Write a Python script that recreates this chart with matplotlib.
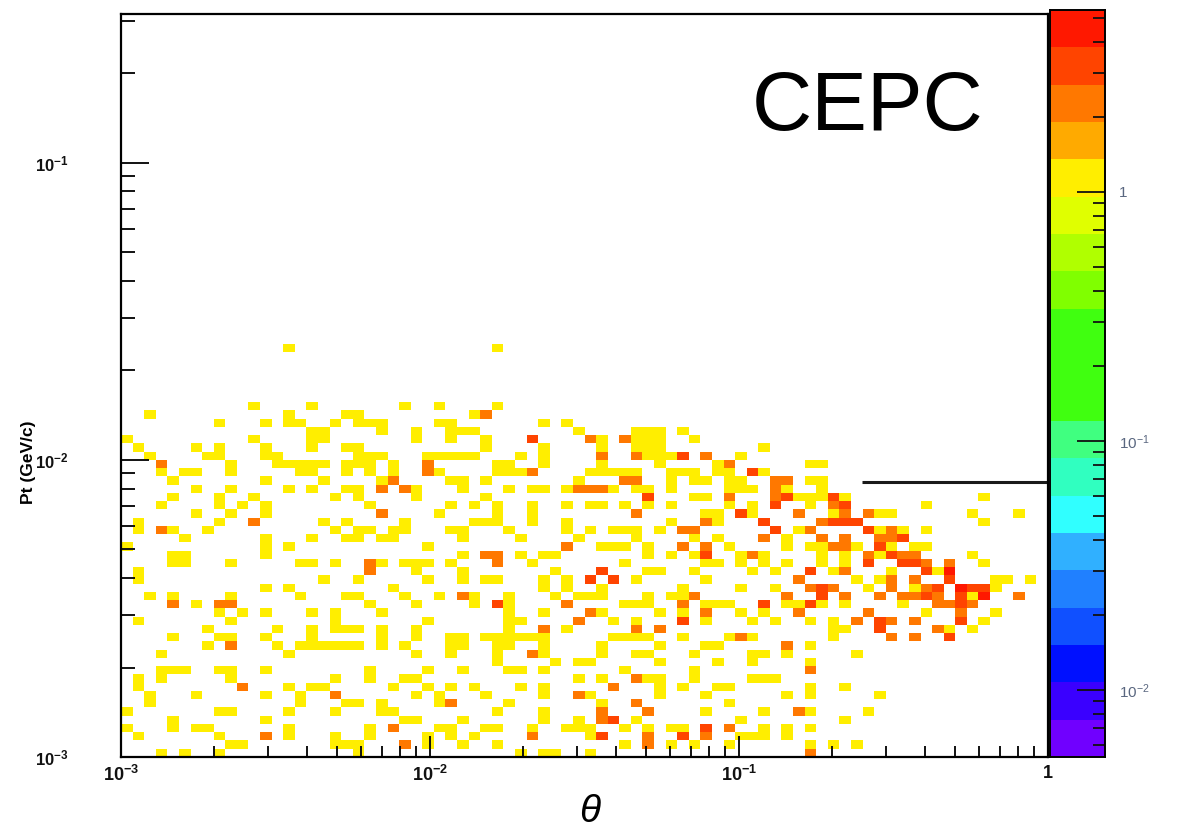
import numpy as np
import matplotlib
matplotlib.use("Agg")
import matplotlib.pyplot as plt
from matplotlib.colors import ListedColormap
from matplotlib.ticker import LogLocator, FixedLocator, FixedFormatter, NullFormatter

plt.rcParams['font.family'] = ['Liberation Sans', 'DejaVu Sans']
plt.rcParams['mathtext.fontset'] = 'custom'
plt.rcParams['mathtext.rm'] = 'Liberation Sans'
plt.rcParams['mathtext.it'] = 'Liberation Sans:italic'
plt.rcParams['mathtext.bf'] = 'Liberation Sans:bold'

# histogram binning (log theta, log Pt)
N_THETA = 80
N_PT = 90
THETA_RANGE = (-3.0, 0.0)
PT_RANGE = (-3.0, -0.5)

# cell contents, top row (Pt bin 50) to bottom row (bin 0)
# '.' empty, digits = bin content
HIST_ROWS = [
    ".......... .......... .......... .......... .......... .......... .......... ..........",  # 50
    ".......... ....1..... .......... ..1....... .......... .......... .......... ..........",  # 49
    ".......... .......... .......... .......... .......... .......... .......... ..........",  # 48
    ".......... .......... .......... .......... .......... .......... .......... ..........",  # 47
    ".......... .......... .......... .......... .......... .......... .......... ..........",  # 46
    ".......... .......... .......... .......... .......... .......... .......... ..........",  # 45
    ".......... .......... .......... .......... .......... .......... .......... ..........",  # 44
    ".......... .......... .......... .......... .......... .......... .......... ..........",  # 43
    ".......... .1....1... ....1..1.. ..1....... .......... .......... .......... ..........",  # 42
    "..1....... ....1....1 1......... 12........ .......... .......... .......... ..........",  # 41
    "........1. ..1.11..1. 111....11. ......1.1. .......... .......... .......... ..........",  # 40
    ".......... ......11.. ..1..1..11 1........1 ....111.1. .......... .......... ..........",  # 39
    "1......... .1....11.. .....1..1. .1...3.... 21.2111..1 .......... .......... ..........",  # 38
    ".1....1.1. ..1...1..1 1......... .1....1... .1..111... .....1.... .......... ..........",  # 37
    "..1....11. ..11...... 111...1111 1...1.1... .2..21113. 2..1...... .......... ..........",  # 36
    "...2.....1 ...11111.1 11.1..2... ..11..1... .1....1... .12......1 1......... ..........",  # 35
    "...1.11..1 .....11..1 .1.1..21.. ..1112.... 11111..111 .11.31.... .......... ..........",  # 34
    "....1..... ..1....1.. ..12....11 .1.......1 ...22..1.1 1.11..22.1 1......... ..........",  # 33
    "......1..1 ....1.1..1 1.2.21...1 ...1.11.12 221.11.1.. ..111.21.. 1......... ..........",  # 32
    "....1...1. .1......1. 1....1.... .1........ .....3...1 1.2...2311 131....... ....1.....",  # 31
    "...1....1. 1.1....... .1......1. 1.1..1..1. 11.1.1.1.. ..1.1.3..1 .23......1 ..........",  # 30
    "......1..1 ..1....... ..2....1.. ..1..1.... ....2..... 11.31...2. .12.211... ...1...1..",  # 29
    ".1......1. .2.....1.1 ....1..... 111..1..1. .......1.. 21...3.... 2333...... ....1.....",  # 28
    ".1.21..1.. ........1. 11.11...11 ...1....1. 1.111.1.22 ......3.12 ....3121.1 ..........",  # 27
    ".....1.... ..1...1..1 1.11.....1 ....1....1 ....1....1 .1...2.1.. 2.2..223.. ..........",  # 26
    "1......... ..1.1..... ......1... ........2. .111.1..2. 2.1....1.1 1221.31.11 ..........",  # 25
    "....11.... ..1....... .........1 .22.1.11.. .....1.1.1 3..121.... 1.1.21322. ...1......",  # 24
    "....11...1 .....11.1. .21.111.1. ..2..1.... ...1...... 11.1.1.1.. 1.1.3..332 .2..1.....",  # 23
    ".1........ .......... .2...1...1 .......1.. .3...11..1 ....1.1..3 .12...1..3 14........",  # 22
    ".1........ .......1.. 1.....1..1 .11...1.1. 3.3.1..... 1.......2. ...1.12.2. .3...11.1.",  # 21
    ".......... ..1.1..... ...1...... ......1.1. .1......1. ...1..1..2 32..1.2.12 3.4331....",  # 20
    "..1.1....1 .....1...1 1...1..1.2 1..1...1.1 11...1.112 .......2.. 3.2..2.223 2.314..2..",  # 19
    "....2.1.22 .......... .1...1.... 1.31....2. ...111..2. 111..3.113 1.1....1.. 2232......",  # 18
    "........1. 1.1...1.1. ..1....... ...1..1... 21....1.1. 2..1.1..2. ....2....1 ..2..1....",  # 17
    ".1.......1 ........1. ......1... ...11....2 ..1.1...3. 1...1.1..1 .1.2.32.2. ..3.1.....",  # 16
    ".......1.. ...1..1.11 1.1..1.... ...1..2.1. ....2.2... .......... .11..3.... 21.1......",  # 15
    "....1...11 ..1...1... ..1..1..11 .111111... ..1111..1. ..121..... .1....2.2. .3........",  # 14
    ".......1.2 ...1.11111 1.1.1...11 ..11..1... .1....1... 11.....2.1 .......... ..........",  # 13
    "...1...... ....1..... .....1..1. ..1..21... .1..11...1 ....11.1.. ...1...... ..........",  # 12
    ".......... .......... .......... ..1....1.1 1.....1... .1..1....1 .......... ..........",  # 11
    "...111..11 ..1....... .1....1..1 ...11.1... ...1.....1 .........2 .......... ..........",  # 10
    ".1.1.....1 ........1. .1..11.... .........1 .1..211..1 ....111... .......... ..........",  # 9
    ".1........ 2...1.11.. ...1..1.1. 1...1.1... ..2...1.1. .11......1 ..1....... ..........",  # 8
    "..1...1... ..1..1..2. .....1.1.. .1....1..2 1.....1... 1......1.1 .....1.... ..........",  # 7
    "..1....... .....1...1 1.1....12. ...1...... .1..2..... ..1....... .......... ..........",  # 6
    "1.......11 ....1...1. ..11...... ..1...1... .2...2.... 1....1..21 ....1..... ..........",  # 5
    "....1..... ..1....... ....11...1 ......1..1 .23.1..... ...1...... ..1....... ..........",  # 4
    "1...1.11.. ....1..... .1.2...11. .11..1..11 1..1.1.11. 3.2..1.1.1 .......... ..........",  # 3
    ".1......1. ..2.1...1. .1....1.1. 1....2.... 13...2..3. 2..111.1.. .......... ..........",  # 2
    ".........1 1.......11 1...2.1..1 ..1....... ...1.2.1.1 ..1......1 .1.1...... ..........",  # 1
    "...1.1..1. .......... 1......... ....1.11.. 1......... .........2 .......... ..........",  # 0
]

# ROOT rainbow palette, 20 contour levels from bottom to top
PALETTE = ['#7000ff', '#3a00ff', '#0010ff', '#1050ff', '#2080ff',
           '#30b0ff', '#30ffff', '#30ffc0', '#40ff80', '#40ff10',
           '#40ff10', '#40ff10', '#80ff00', '#b0ff00', '#e0ff00',
           '#ffee00', '#ffaa00', '#ff7800', '#ff4400', '#ff1800']
Z_LOG_RANGE = (-2.27, 0.73)

# cut line drawn on the plot
CUT_THETA = (0.25, 1.0)
CUT_PT = 0.0084

theta_edges = np.logspace(*THETA_RANGE, N_THETA + 1)
pt_edges = np.logspace(*PT_RANGE, N_PT + 1)
z_edges = np.logspace(*Z_LOG_RANGE, len(PALETTE) + 1)

counts = np.zeros((N_PT, N_THETA))
for i, row in enumerate(HIST_ROWS):
    r = len(HIST_ROWS) - 1 - i
    row = row.replace(" ", "").ljust(N_THETA, ".")[:N_THETA]
    for c, ch in enumerate(row):
        if ch != ".":
            counts[r, c] = int(ch)

# map each content to its palette band (log-z contours)
band = np.digitize(counts, z_edges) - 1
band = np.ma.masked_where(counts <= 0, band)
cmap = ListedColormap(PALETTE)

W, H = 1189, 831
fig = plt.figure(figsize=(W / 100, H / 100), dpi=100)
ax = fig.add_axes([121 / W, 1 - 757 / H, 927 / W, 743 / H])
ax.pcolormesh(theta_edges, pt_edges, band, cmap=cmap, vmin=-0.5, vmax=len(PALETTE) - 0.5)
ax.set_xscale('log')
ax.set_yscale('log')
ax.set_xlim(10 ** THETA_RANGE[0], 10 ** THETA_RANGE[1])
ax.set_ylim(10 ** PT_RANGE[0], 10 ** PT_RANGE[1])

ax.plot(CUT_THETA, [CUT_PT, CUT_PT], color='#1a1a1a', lw=2.2, solid_capstyle='butt')

# ROOT-like axis ticks
ax.xaxis.set_major_locator(FixedLocator([1e-3, 1e-2, 1e-1, 1]))
ax.xaxis.set_major_formatter(FixedFormatter([r'$\mathbf{10^{-3}}$', r'$\mathbf{10^{-2}}$',
                                             r'$\mathbf{10^{-1}}$', r'$\mathbf{1}$']))
ax.xaxis.set_minor_locator(LogLocator(base=10, subs=np.arange(2, 10), numticks=20))
ax.xaxis.set_minor_formatter(NullFormatter())
ax.yaxis.set_major_locator(FixedLocator([1e-3, 1e-2, 1e-1]))
ax.yaxis.set_major_formatter(FixedFormatter([r'$\mathbf{10^{-3}}$', r'$\mathbf{10^{-2}}$',
                                             r'$\mathbf{10^{-1}}$']))
ax.yaxis.set_minor_locator(LogLocator(base=10, subs=np.arange(2, 10), numticks=20))
ax.yaxis.set_minor_formatter(NullFormatter())
ax.tick_params(which='both', direction='in', top=False, right=False, width=1.4, colors='#111111')
ax.tick_params(axis='x', which='major', length=15, pad=6, labelsize=13)
ax.tick_params(axis='x', which='minor', length=8)
ax.tick_params(axis='y', which='major', length=20, pad=38, labelsize=12)
ax.tick_params(axis='y', which='minor', length=10)
for sp in ax.spines.values():
    sp.set_linewidth(1.6)

fig.text(28 / W, 1 - 462 / H, 'Pt (GeV/c)', rotation=90, ha='center', va='center',
         fontsize=12.5, fontweight='bold')
fig.text(590 / W, 1 - 812 / H, 'θ', ha='center', va='center', fontsize=28, style='italic')
fig.text(752 / W, 1 - 130 / H, 'CEPC', ha='left', va='baseline', fontsize=60)

# palette axis
cax = fig.add_axes([1050 / W, 1 - 757 / H, 55 / W, 747 / H])
cax.pcolormesh([0, 1], z_edges, np.arange(len(PALETTE)).reshape(-1, 1), cmap=cmap,
               vmin=-0.5, vmax=len(PALETTE) - 0.5)
cax.set_yscale('log')
cax.set_ylim(z_edges[0], z_edges[-1])
cax.set_xlim(0, 1)
cax.set_xticks([])
cax.yaxis.tick_right()
cax.yaxis.set_major_locator(FixedLocator([1e-2, 1e-1, 1]))
cax.yaxis.set_major_formatter(FixedFormatter([r'$10^{-2}$', r'$10^{-1}$', '1']))
cax.yaxis.set_minor_locator(LogLocator(base=10, subs=np.arange(2, 10), numticks=20))
cax.yaxis.set_minor_formatter(NullFormatter())
cax.tick_params(which='both', direction='in', width=1.3, colors='#111111')
cax.tick_params(which='major', length=20, pad=10, labelsize=11, labelcolor='#5a6780')
cax.tick_params(which='minor', length=9)
for sp in cax.spines.values():
    sp.set_linewidth(1.4)

fig.savefig('out.png', dpi=100)
